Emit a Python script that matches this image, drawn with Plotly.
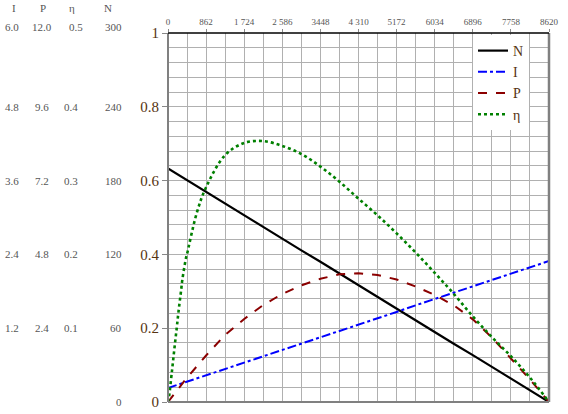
import plotly.graph_objects as go

# x positions (torque-like axis, 0..8620)
x_vals = [0, 431, 862, 1293, 1724, 2155, 2586, 3017, 3448, 3879, 4310,
          4741, 5172, 5603, 6034, 6465, 6896, 7327, 7758, 8189, 8620]

# normalized values (0..1 on main axis)
N_vals = [0.633, 0.601, 0.570, 0.538, 0.506, 0.475, 0.443, 0.411, 0.380, 0.348, 0.317,
          0.285, 0.253, 0.222, 0.190, 0.158, 0.127, 0.095, 0.063, 0.032, 0.0]
I_vals = [0.038, 0.055, 0.072, 0.090, 0.107, 0.124, 0.141, 0.158, 0.176, 0.193, 0.210,
          0.227, 0.244, 0.262, 0.279, 0.296, 0.313, 0.330, 0.348, 0.365, 0.382]
P_vals = [0.0, 0.066, 0.126, 0.182, 0.225, 0.263, 0.293, 0.316, 0.334, 0.346, 0.349,
          0.344, 0.332, 0.313, 0.290, 0.262, 0.224, 0.175, 0.118, 0.061, 0.0]

eta_x = [0, 23, 84, 100, 158, 200, 233, 300, 324, 407, 431, 650, 862, 1293, 1724, 2155,
         2586, 3017, 3448, 3879, 4310, 4741, 5172, 5603, 6034, 6465, 6896, 7327,
         7758, 8189, 8620]
eta_vals = [0.0, 0.014, 0.078, 0.095, 0.159, 0.203, 0.240, 0.306, 0.331, 0.390, 0.401,
            0.512, 0.582, 0.669, 0.702, 0.707, 0.694, 0.672, 0.638, 0.597, 0.551,
            0.506, 0.457, 0.405, 0.350, 0.293, 0.232, 0.176, 0.124, 0.066, 0.0]

x_ticks = [0, 862, 1724, 2586, 3448, 4310, 5172, 6034, 6896, 7758, 8620]
x_ticktext = ["0", "862", "1 724", "2 586", "3448", "4 310", "5172", "6034", "6896", "7758", "8620"]
y_ticks = [0, 0.2, 0.4, 0.6, 0.8, 1.0]
y_ticktext = ["0", "0.2", "0.4", "0.6", "0.8", "1"]

# side scale columns
side_headers = ["I", "P", "η", "N"]
side_levels = [1.0, 0.8, 0.6, 0.4, 0.2, 0.0]
I_scale = ["6.0", "4.8", "3.6", "2.4", "1.2", ""]
P_scale = ["12.0", "9.6", "7.2", "4.8", "2.4", ""]
eta_scale = ["0.5", "0.4", "0.3", "0.2", "0.1", ""]
N_scale = ["300", "240", "180", "120", "60", "0"]

TXT = "#553311"
SERIF = "Liberation Serif, DejaVu Serif, serif"
GRID = "#b0b0b0"

fig = go.Figure()
fig.add_trace(go.Scatter(x=x_vals, y=N_vals, mode="lines", name="N",
                         line=dict(color="black", width=2.2)))
fig.add_trace(go.Scatter(x=x_vals, y=I_vals, mode="lines", name="I",
                         line=dict(color="#0000ff", width=2, dash="dashdot")))
fig.add_trace(go.Scatter(x=x_vals, y=P_vals, mode="lines", name="P",
                         line=dict(color="#8b0000", width=2, dash="dash")))
fig.add_trace(go.Scatter(x=eta_x, y=eta_vals, mode="lines", name="η", line_shape="spline",
                         line=dict(color="#008000", width=2.6, dash="dot")))

W, H = 568, 414
L, R, T, B = 168, 568 - 549, 33, 414 - 402
pw, ph = 549 - 168, 402 - 33

def px_to_paper_x(px):
    return (px - 168) / pw

def py_to_paper_y(py):
    return (402 - py) / ph

ann = []
font_side = dict(family=SERIF, size=11, color="#555555")
header_x = [14, 43, 72, 108]
col_x = [11.5, 41.5, 71, 124]
for i, h in enumerate(side_headers):
    ann.append(dict(x=px_to_paper_x(header_x[i]), y=py_to_paper_y(8), xref="paper", yref="paper",
                    text=h, showarrow=False, font=font_side, xanchor="center", yanchor="middle"))
for r, lev in enumerate(side_levels):
    yy = py_to_paper_y(27) if lev == 1.0 else lev
    cols = [I_scale[r], P_scale[r], eta_scale[r], N_scale[r]]
    for c, t in enumerate(cols):
        if not t:
            continue
        xc = col_x[c]
        if c == 2 and lev == 1.0:
            xc = 76
        ann.append(dict(x=px_to_paper_x(xc), y=yy, xref="paper", yref="paper", text=t,
                        showarrow=False, font=font_side,
                        xanchor="right" if c == 3 else "center", yanchor="middle"))

shapes = [
    dict(type="line", xref="paper", yref="paper", x0=0, x1=0, y0=0, y1=1,
         line=dict(color="#808080", width=2)),
    dict(type="line", xref="paper", yref="paper", x0=0, x1=1, y0=0, y1=0,
         line=dict(color="#808080", width=2)),
    dict(type="line", xref="paper", yref="paper", x0=1, x1=1, y0=0, y1=1,
         line=dict(color="#808080", width=2.5)),
    dict(type="line", xref="paper", yref="paper", x0=0, x1=1, y0=1, y1=1,
         line=dict(color="black", width=1.5)),
]

fig.update_layout(
    width=W, height=H,
    margin=dict(l=L, r=R, t=T, b=B, pad=0, autoexpand=False),
    paper_bgcolor="white", plot_bgcolor="white",
    showlegend=True,
    legend=dict(x=px_to_paper_x(473), y=py_to_paper_y(35), xanchor="left", yanchor="top",
                bgcolor="white", borderwidth=0, tracegroupgap=0,
                font=dict(family=SERIF, size=14, color=TXT)),
    xaxis=dict(range=[0, 8620], side="top", tickmode="array", tickvals=x_ticks,
               ticktext=x_ticktext, showgrid=True, gridcolor=GRID, gridwidth=1,
               minor=dict(dtick=431, tick0=0, showgrid=True, gridcolor=GRID, gridwidth=1),
               ticks="outside", ticklen=3, tickcolor="#888888", automargin=False,
               tickfont=dict(family=SERIF, size=9, color="#555555"),
               zeroline=False, showline=False, fixedrange=True),
    yaxis=dict(range=[0, 1], tickmode="array", tickvals=y_ticks, ticktext=y_ticktext,
               showgrid=True, gridcolor=GRID, gridwidth=1,
               minor=dict(dtick=0.04, tick0=0, showgrid=True, gridcolor=GRID, gridwidth=1),
               ticks="outside", ticklen=5, tickcolor="#888888", automargin=False,
               tickfont=dict(family=SERIF, size=15, color=TXT),
               zeroline=False, showline=False, fixedrange=True),
    annotations=ann,
    shapes=shapes,
)

fig.write_html("out.html", config={"displayModeBar": False, "staticPlot": True},
               post_script="document.body.style.margin='0';document.body.style.padding='0';")
